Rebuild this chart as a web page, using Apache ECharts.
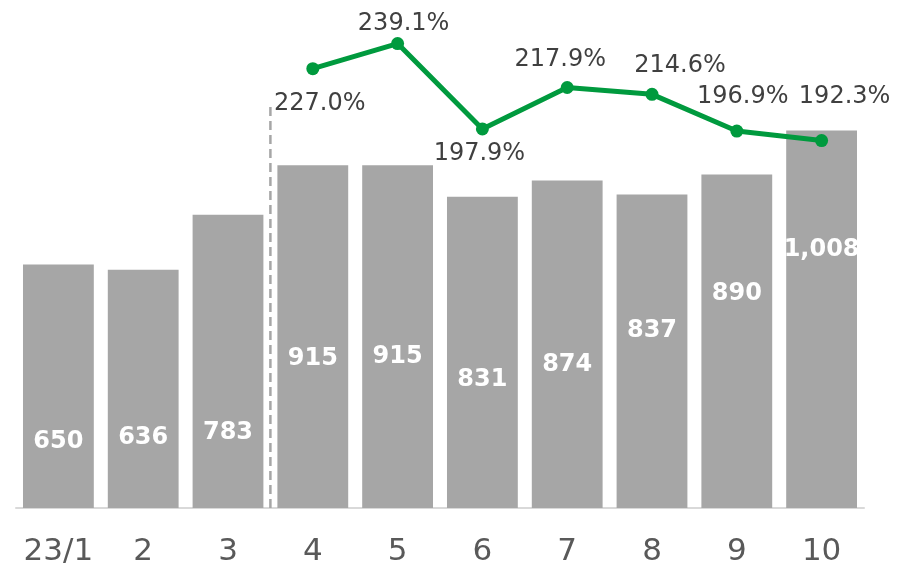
<!DOCTYPE html>
<html>
<head>
<meta charset="utf-8">
<script src="https://cdn.jsdelivr.net/npm/echarts@6/dist/echarts.min.js"></script>
<style>
  html, body { margin: 0; padding: 0; background: #fff; }
  #chart { width: 897px; height: 570px; }
</style>
</head>
<body>
<div id="chart"></div>
<script>
// Monthly volume (bars) and ratio (line, %)
const months = ['23/1', '2', '3', '4', '5', '6', '7', '8', '9', '10'];
const volumes = [650, 636, 783, 915, 915, 831, 874, 837, 890, 1008];
const ratios = [null, null, null, 227.0, 239.1, 197.9, 217.9, 214.6, 196.9, 192.3];

// Height (px above the baseline) at which each bar's value label sits
const barLabelLift = [66, 70, 75, 149, 151, 128, 143, 177, 214, 258];
// Offset [dx, dy] of each ratio label from its point
const ratioLabelOffset = [null, null, null, [7, 35], [6, -20], [-3, 25], [-7, -28], [28, -29], [6, -34], [23, -44]];

// Divider between Q1 and the later months, in category units
const dividerX = 2.5;
const dividerTop = 1080;

const FONT = 'DejaVu Sans';

const chart = echarts.init(document.getElementById('chart'));

chart.setOption({
  animation: false,
  backgroundColor: '#ffffff',
  grid: { left: 16, right: 33, top: 21, bottom: 62 },
  xAxis: [
    {
      type: 'category',
      data: months,
      axisTick: { show: false },
      axisLine: { lineStyle: { color: '#d9d9d9', width: 2 } },
      axisLabel: { interval: 0, color: '#595959', fontSize: 31, fontFamily: FONT, margin: 28 }
    },
    { type: 'value', min: -0.5, max: 9.5, show: false }
  ],
  yAxis: [
    { type: 'value', min: 0, max: 1300, show: false, splitLine: { show: false } },
    { type: 'value', min: 15, max: 250, show: false, splitLine: { show: false } }
  ],
  series: [
    {
      type: 'bar',
      data: volumes.map((v, i) => ({
        value: v,
        label: { offset: [0, -barLabelLift[i]] }
      })),
      barCategoryGap: '16.5%',
      itemStyle: { color: '#a6a6a6' },
      label: {
        show: true,
        position: 'insideBottom',
        distance: 0,
        verticalAlign: 'middle',
        color: '#ffffff',
        fontSize: 24,
        fontWeight: 'bold',
        fontFamily: FONT,
        formatter: p => p.value.toLocaleString('en-US')
      },
      z: 2
    },
    {
      type: 'line',
      xAxisIndex: 1,
      yAxisIndex: 0,
      data: [[dividerX, 0], [dividerX, dividerTop]],
      symbol: 'none',
      silent: true,
      lineStyle: { color: '#a6a6a6', width: 2.5, type: [9, 5] },
      z: 3
    },
    {
      type: 'line',
      yAxisIndex: 1,
      data: ratios.map((v, i) => v == null ? null : ({
        value: v,
        label: { offset: ratioLabelOffset[i] }
      })),
      connectNulls: false,
      symbol: 'circle',
      symbolSize: 13,
      itemStyle: { color: '#009a3e' },
      lineStyle: { color: '#009a3e', width: 5 },
      label: {
        show: true,
        position: 'inside',
        color: '#404040',
        fontSize: 24,
        fontFamily: FONT,
        formatter: p => p.value.toFixed(1) + '%'
      },
      z: 4
    }
  ]
});
</script>
</body>
</html>
